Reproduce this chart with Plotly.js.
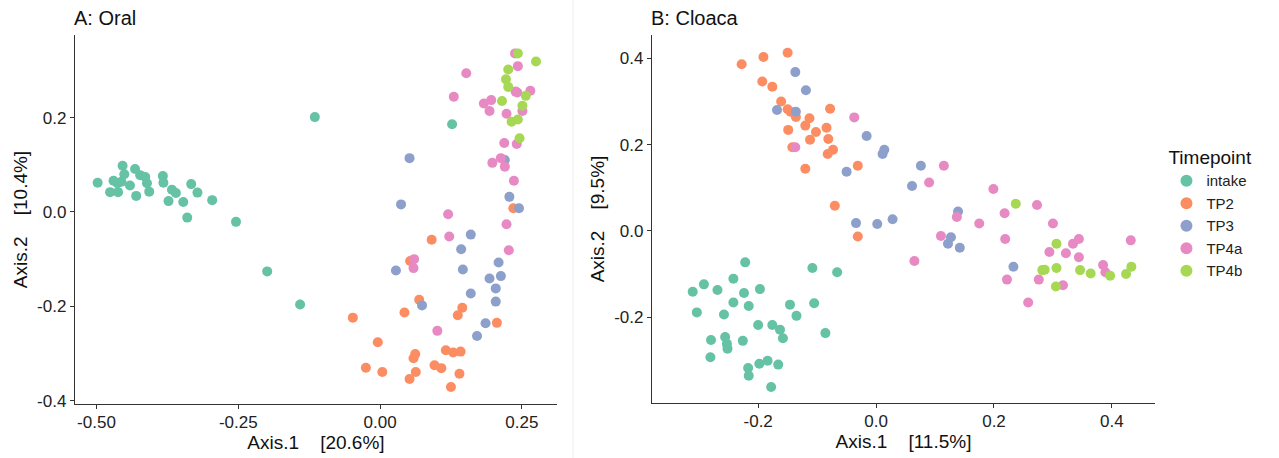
<!DOCTYPE html>
<html><head><meta charset="utf-8">
<script src="https://cdn.plot.ly/plotly-3.0.1.min.js"></script>
<style>html,body{margin:0;padding:0;background:#fff;}#chart{width:1279px;height:458px;}</style>
</head><body><div id="chart"></div>
<script>
// ---------- Panel A: Oral ----------
const groups = ["intake","TP2","TP3","TP4a","TP4b"];
const colors = ["#66C2A5","#FC8D62","#8DA0CB","#E78AC3","#A6D854"];

const oralIntakeX = [-0.498,-0.476,-0.470,-0.463,-0.462,-0.454,-0.451,-0.456,-0.441,-0.432,-0.430,-0.423,-0.414,-0.411,-0.407,-0.383,-0.382,-0.373,-0.367,-0.360,-0.347,-0.340,-0.333,-0.322,-0.296,-0.254,-0.199,-0.141,-0.115,0.127];
const oralIntakeY = [0.062,0.042,0.066,0.061,0.042,0.098,0.080,0.064,0.056,0.091,0.034,0.078,0.074,0.061,0.043,0.076,0.062,0.023,0.047,0.040,0.021,-0.012,0.059,0.041,0.025,-0.021,-0.126,-0.196,0.201,0.186];

const oralTP2X = [0.235,0.091,0.053,0.069,0.043,-0.048,0.145,0.137,0.206,-0.004,0.116,0.129,0.142,0.062,0.059,-0.025,0.004,0.063,0.096,0.108,0.140,0.052,0.125];
const oralTP2Y = [0.008,-0.059,-0.104,-0.186,-0.213,-0.224,-0.203,-0.219,-0.235,-0.276,-0.293,-0.298,-0.296,-0.301,-0.310,-0.330,-0.339,-0.339,-0.325,-0.331,-0.343,-0.354,-0.371];

const oralTP3X = [0.052,0.037,0.220,0.228,0.245,0.160,0.143,0.028,0.146,0.209,0.193,0.213,0.204,0.160,0.204,0.074,0.186,0.171];
const oralTP3Y = [0.114,0.016,0.110,0.032,0.008,-0.048,-0.079,-0.124,-0.122,-0.107,-0.141,-0.136,-0.162,-0.173,-0.190,-0.198,-0.236,-0.263];

const oralTP4aX = [0.238,0.243,0.152,0.130,0.183,0.196,0.193,0.239,0.242,0.265,0.251,0.223,0.219,0.241,0.198,0.213,0.220,0.236,0.120,0.122,0.223,0.227,0.060,0.059,0.101];
const oralTP4aY = [0.336,0.309,0.294,0.244,0.230,0.237,0.214,0.255,0.253,0.257,0.214,0.208,0.146,0.144,0.104,0.114,0.096,0.066,-0.005,-0.052,-0.026,-0.081,-0.100,-0.119,-0.252];

const oralTP4bX = [0.243,0.275,0.226,0.222,0.226,0.215,0.257,0.251,0.232,0.243,0.246];
const oralTP4bY = [0.336,0.319,0.302,0.281,0.265,0.235,0.246,0.225,0.191,0.196,0.156];

// ---------- Panel B: Cloaca ----------
const cloIntakeX = [-0.222,-0.292,-0.311,-0.269,-0.242,-0.224,-0.197,-0.242,-0.216,-0.304,-0.258,-0.146,-0.135,-0.105,-0.108,-0.066,-0.200,-0.176,-0.163,-0.158,-0.086,-0.280,-0.256,-0.253,-0.252,-0.226,-0.281,-0.217,-0.216,-0.198,-0.184,-0.166,-0.178];
const cloIntakeY = [-0.073,-0.124,-0.141,-0.137,-0.111,-0.144,-0.135,-0.166,-0.174,-0.189,-0.194,-0.171,-0.197,-0.168,-0.086,-0.096,-0.218,-0.218,-0.229,-0.249,-0.237,-0.253,-0.246,-0.262,-0.273,-0.255,-0.293,-0.318,-0.336,-0.308,-0.301,-0.310,-0.362];

const cloTP2X = [-0.228,-0.191,-0.150,-0.193,-0.176,-0.161,-0.150,-0.145,-0.136,-0.113,-0.120,-0.149,-0.102,-0.078,-0.084,-0.081,-0.112,-0.142,-0.073,-0.082,-0.120,-0.031,-0.070,-0.031];
const cloTP2Y = [0.386,0.403,0.413,0.346,0.334,0.300,0.282,0.276,0.264,0.261,0.244,0.234,0.229,0.283,0.239,0.213,0.211,0.194,0.188,0.178,0.144,0.151,0.058,-0.013];

const cloTP3X = [-0.137,-0.119,-0.168,-0.136,-0.016,0.014,0.011,-0.050,-0.034,0.002,0.028,0.076,0.061,0.139,0.127,0.122,0.142,0.233];
const cloTP3Y = [0.368,0.326,0.280,0.276,0.220,0.188,0.178,0.137,0.018,0.016,0.027,0.151,0.104,0.045,-0.015,-0.030,-0.039,-0.083];

const cloTP4aX = [-0.037,-0.137,0.115,0.090,0.199,0.137,0.175,0.218,0.110,0.219,0.065,0.273,0.300,0.334,0.344,0.294,0.322,0.344,0.385,0.389,0.432,0.222,0.276,0.317,0.258];
const cloTP4aY = [0.263,0.194,0.151,0.112,0.097,0.032,0.017,0.041,-0.012,-0.019,-0.070,0.060,0.017,-0.030,-0.019,-0.049,-0.052,-0.061,-0.079,-0.096,-0.022,-0.113,-0.113,-0.126,-0.166];

const cloTP4bX = [0.237,0.306,0.282,0.286,0.306,0.346,0.364,0.397,0.424,0.433,0.305];
const cloTP4bY = [0.063,-0.030,-0.091,-0.090,-0.086,-0.091,-0.099,-0.104,-0.100,-0.083,-0.129];

// tick labels
const aXTicks = [-0.5,-0.25,0,0.25];
const aXText = ["-0.50","-0.25","0.00","0.25"];
const aYTicks = [0.2,0,-0.2,-0.4];
const aYText = ["0.2","0.0","-0.2","-0.4"];
const bXTicks = [-0.2,0,0.2,0.4];
const bXText = ["-0.2","0.0","0.2","0.4"];
const bYTicks = [0.4,0.2,0,-0.2];
const bYText = ["0.4","0.2","0.0","-0.2"];

const oral = [[oralIntakeX,oralIntakeY],[oralTP2X,oralTP2Y],[oralTP3X,oralTP3Y],[oralTP4aX,oralTP4aY],[oralTP4bX,oralTP4bY]];
const clo = [[cloIntakeX,cloIntakeY],[cloTP2X,cloTP2Y],[cloTP3X,cloTP3Y],[cloTP4aX,cloTP4aY],[cloTP4bX,cloTP4bY]];

const traces = [];
groups.forEach((g,i)=>{
  traces.push({type:"scatter",mode:"markers",name:g,x:oral[i][0],y:oral[i][1],xaxis:"x",yaxis:"y",
    legendgroup:g,showlegend:true,marker:{color:colors[i],size:10,line:{width:0}}});
});
groups.forEach((g,i)=>{
  traces.push({type:"scatter",mode:"markers",name:g,x:clo[i][0],y:clo[i][1],xaxis:"x2",yaxis:"y2",
    legendgroup:g,showlegend:false,marker:{color:colors[i],size:10,line:{width:0}}});
});

const FONT = "Liberation Sans, Arial, sans-serif";
const TF = {family:FONT,size:19,color:"#111"};
const axBase = {showgrid:false,zeroline:false,showline:true,linecolor:"#333",linewidth:1.2,
  ticks:"outside",ticklen:4,tickcolor:"#333",tickfont:{family:FONT,size:17,color:"#222"}};

function ax(extra){ return Object.assign(JSON.parse(JSON.stringify(axBase)), extra); }
const SP = "\u00a0\u00a0\u00a0";

const layout = {
  width:1279,height:458,margin:{l:0,r:0,t:0,b:0},
  paper_bgcolor:"#fff",plot_bgcolor:"#fff",
  font:{family:FONT},
  xaxis: ax({domain:[0.0586,0.4355],range:[-0.538,0.312],tickmode:"array",tickvals:aXTicks,ticktext:aXText,
    anchor:"y",ticklabelstandoff:-2,title:{text:"Axis.1"+SP+" [20.6%]",font:TF,standoff:0}}),
  yaxis: ax({domain:[0.1179,0.9236],range:[-0.407,0.375],tickmode:"array",tickvals:aYTicks,ticktext:aYText,
    anchor:"x",title:{text:"Axis.2"+SP+" [10.4%]",font:TF,standoff:4}}),
  xaxis2: ax({domain:[0.5098,0.9030],range:[-0.380,0.473],tickmode:"array",tickvals:bXTicks,ticktext:bXText,
    anchor:"y2",ticklabelstandoff:-2,title:{text:"Axis.1"+SP+" [11.5%]",font:TF,standoff:0}}),
  yaxis2: ax({domain:[0.1201,0.9236],range:[-0.399,0.454],tickmode:"array",tickvals:bYTicks,ticktext:bYText,
    anchor:"x2",title:{text:"Axis.2"+SP+" [9.5%]",font:TF,standoff:4}}),
  legend:{x:0.912,y:0.695,xanchor:"left",yanchor:"top",
    title:{text:"Timepoint",font:{family:FONT,size:19,color:"#111"}},
    font:{family:FONT,size:15,color:"#222"},tracegroupgap:0,itemsizing:"constant",bgcolor:"rgba(0,0,0,0)"},
  annotations:[
    {text:"A: Oral",xref:"paper",yref:"paper",x:72/1279,y:1-18/458,xanchor:"left",yanchor:"middle",showarrow:false,
      font:{family:FONT,size:20,color:"#111"}},
    {text:"B: Cloaca",xref:"paper",yref:"paper",x:649/1279,y:1-18/458,xanchor:"left",yanchor:"middle",showarrow:false,
      font:{family:FONT,size:20,color:"#111"}}
  ],
  shapes:[
    {type:"line",xref:"paper",yref:"paper",x0:573/1279,x1:573/1279,y0:0,y1:1,line:{color:"#eeeeee",width:1}}
  ]
};

Plotly.newPlot("chart",traces,layout,{displayModeBar:false,staticPlot:true});
</script></body></html>
